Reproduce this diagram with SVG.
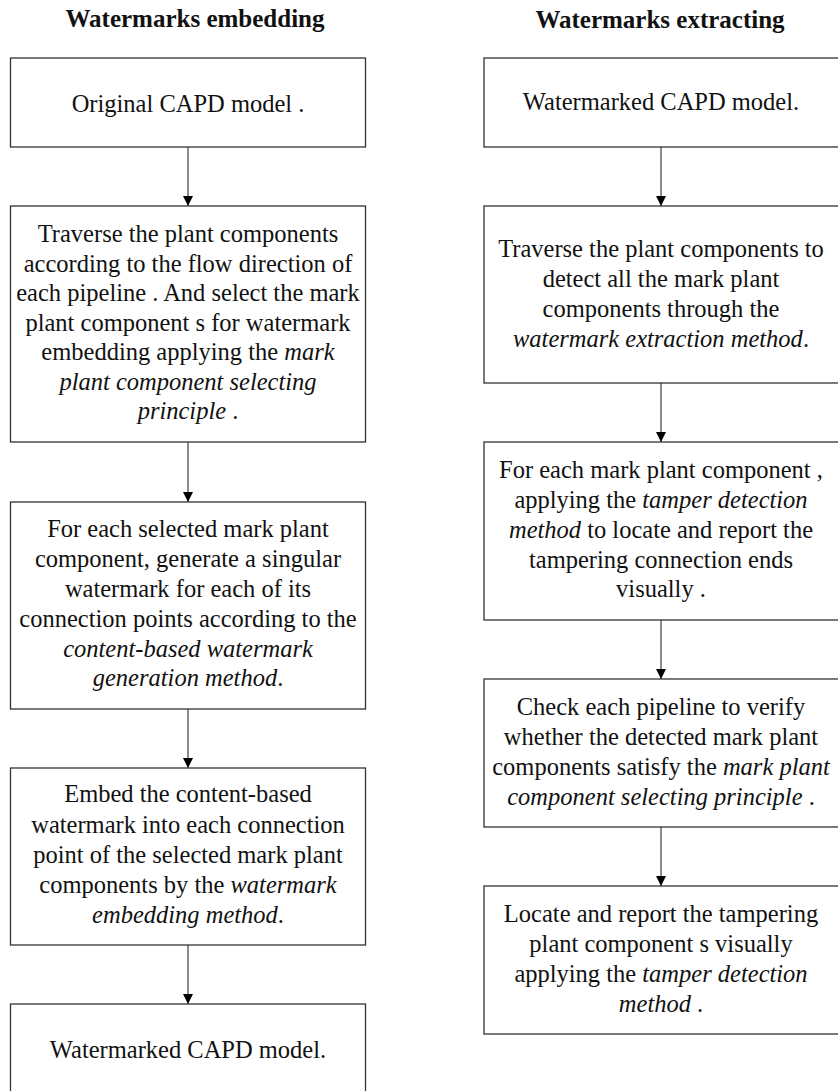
<svg xmlns="http://www.w3.org/2000/svg" width="838" height="1091" viewBox="0 0 838 1091">
<style>
.box{fill:#fff;stroke:#333;stroke-width:1.3}
.t{font-family:'Liberation Serif',serif;font-size:24.5px;fill:#111;text-anchor:middle}
.h{font-family:'Liberation Serif',serif;font-size:25px;font-weight:bold;fill:#111;text-anchor:middle}
.i{font-style:italic}
.c{stroke:#666;stroke-width:1.5;fill:none;marker-end:url(#ah)}
</style>
<defs>
<marker id="ah" markerUnits="userSpaceOnUse" markerWidth="12" markerHeight="12" viewBox="0 0 12 12" refX="10" refY="6" orient="auto">
<path d="M0,1 L10,6 L0,11 Z" fill="#000"/>
</marker>
</defs>
<rect width="838" height="1091" fill="#fff"/>
<text class="h" x="195" y="27">Watermarks embedding</text>
<text class="h" x="660" y="28">Watermarks extracting</text>

<g id="connectors">
<line class="c" x1="188" y1="147" x2="188" y2="206"/>
<line class="c" x1="188" y1="442" x2="188" y2="502"/>
<line class="c" x1="188" y1="709" x2="188" y2="768"/>
<line class="c" x1="188" y1="945" x2="188" y2="1004"/>
<line class="c" x1="661" y1="147" x2="661" y2="206"/>
<line class="c" x1="661" y1="383" x2="661" y2="442"/>
<line class="c" x1="661" y1="620" x2="661" y2="679"/>
<line class="c" x1="661" y1="827" x2="661" y2="886"/>
</g>

<g id="L1"><rect class="box" x="10.5" y="58" width="355" height="89"/>
<text class="t" x="188" y="112">Original CAPD model .</text></g>

<g id="L2"><rect class="box" x="10.5" y="206" width="355" height="236"/>
<text class="t" x="188" y="242">Traverse the plant components</text>
<text class="t" x="188" y="271.5">according to the flow direction of</text>
<text class="t" x="188" y="301">each pipeline . And select the mark</text>
<text class="t" x="188" y="330.5">plant component s for watermark</text>
<text class="t" x="188" y="360">embedding applying the <tspan class="i">mark</tspan></text>
<text class="t i" x="188" y="389.5">plant component  selecting</text>
<text class="t" x="188" y="419"><tspan class="i">principle</tspan> .</text></g>

<g id="L3"><rect class="box" x="10.5" y="502" width="355" height="207"/>
<text class="t" x="188" y="537">For each selected mark plant</text>
<text class="t" x="188" y="567">component,  generate a singular</text>
<text class="t" x="188" y="596.5">watermark for each of its</text>
<text class="t" x="188" y="626.5">connection points according to the</text>
<text class="t i" x="188" y="656.5">content-based watermark</text>
<text class="t" x="188" y="686"><tspan class="i">generation method</tspan>.</text></g>

<g id="L4"><rect class="box" x="10.5" y="768" width="355" height="177"/>
<text class="t" x="188" y="802">Embed the content-based</text>
<text class="t" x="188" y="833">watermark into each connection</text>
<text class="t" x="188" y="863">point of the selected mark plant</text>
<text class="t" x="188" y="893">components by the <tspan class="i">watermark</tspan></text>
<text class="t" x="188" y="923"><tspan class="i">embedding method</tspan>.</text></g>

<g id="L5"><rect class="box" x="10.5" y="1004" width="355" height="100"/>
<text class="t" x="188" y="1058">Watermarked CAPD model.</text></g>

<g id="R1"><rect class="box" x="484" y="58" width="360" height="89"/>
<text class="t" x="661" y="110">Watermarked CAPD model.</text></g>

<g id="R2"><rect class="box" x="484" y="206" width="360" height="177"/>
<text class="t" x="661" y="257">Traverse the plant components  to</text>
<text class="t" x="661" y="287">detect all the mark plant</text>
<text class="t" x="661" y="317">components through the</text>
<text class="t" x="661" y="347"><tspan class="i">watermark extraction  method</tspan>.</text></g>

<g id="R3"><rect class="box" x="484" y="442" width="360" height="178"/>
<text class="t" x="661" y="478">For each mark plant component ,</text>
<text class="t" x="661" y="508">applying the <tspan class="i">tamper detection</tspan></text>
<text class="t" x="661" y="538"><tspan class="i">method</tspan> to locate and report the</text>
<text class="t" x="661" y="568">tampering  connection ends</text>
<text class="t" x="661" y="597">visually .</text></g>

<g id="R4"><rect class="box" x="484" y="679" width="360" height="148"/>
<text class="t" x="661" y="715">Check each pipeline to verify</text>
<text class="t" x="661" y="745">whether the detected mark plant</text>
<text class="t" x="661" y="775">components satisfy the  <tspan class="i">mark plant</tspan></text>
<text class="t" x="661" y="805"><tspan class="i">component  selecting principle</tspan> .</text></g>

<g id="R5"><rect class="box" x="484" y="886" width="360" height="148"/>
<text class="t" x="661" y="922">Locate and report the tampering</text>
<text class="t" x="661" y="952">plant component s visually</text>
<text class="t" x="661" y="982">applying the <tspan class="i">tamper detection</tspan></text>
<text class="t" x="661" y="1012"><tspan class="i">method</tspan> .</text></g>
</svg>
